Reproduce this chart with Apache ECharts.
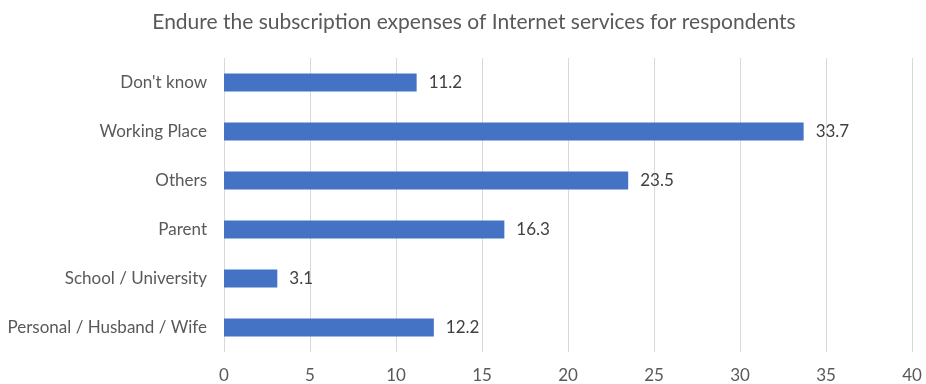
<!DOCTYPE html>
<html>
<head>
<meta charset="utf-8">
<script src="https://cdn.jsdelivr.net/npm/echarts@6/dist/echarts.min.js"></script>
<style>
  html, body { margin: 0; padding: 0; background: #ffffff; }
  #chart { width: 926px; height: 384px; }
</style>
</head>
<body>
<div id="chart"></div>
<script>
// Who pays the internet subscription, share of respondents (%)
const categories = [
  "Don't know",
  "Working Place",
  "Others",
  "Parent",
  "School / University",
  "Personal / Husband / Wife"
];
const shares = [11.2, 33.7, 23.5, 16.3, 3.1, 12.2];
const titleText = "Endure the subscription expenses of Internet services for respondents";

const FONT = "Lato, 'Open Sans', sans-serif";

const chart = echarts.init(document.getElementById('chart'));
chart.setOption({
  backgroundColor: '#ffffff',
  animation: false,
  title: {
    text: titleText,
    left: 469,
    textAlign: 'center',
    top: 7,
    textStyle: { fontFamily: FONT, fontSize: 21, fontWeight: 'normal', color: '#595959' }
  },
  grid: { left: 224, right: 14, top: 58, bottom: 32 },
  xAxis: {
    type: 'value',
    min: 0,
    max: 40,
    interval: 5,
    axisLine: { show: false },
    axisTick: { show: false },
    splitLine: { lineStyle: { color: '#d9d9d9', width: 1 } },
    axisLabel: { fontFamily: FONT, fontSize: 17, color: '#595959', margin: 15 }
  },
  yAxis: {
    type: 'category',
    inverse: true,
    data: categories,
    axisLine: { show: false },
    axisTick: { show: false },
    axisLabel: { fontFamily: FONT, fontSize: 17, color: '#595959', margin: 17 }
  },
  series: [{
    type: 'bar',
    data: shares,
    barWidth: 18,
    itemStyle: { color: '#4472c4' },
    label: {
      show: true,
      position: 'right',
      distance: 12,
      fontFamily: FONT,
      fontSize: 17,
      color: '#404040'
    }
  }]
});
</script>
</body>
</html>
